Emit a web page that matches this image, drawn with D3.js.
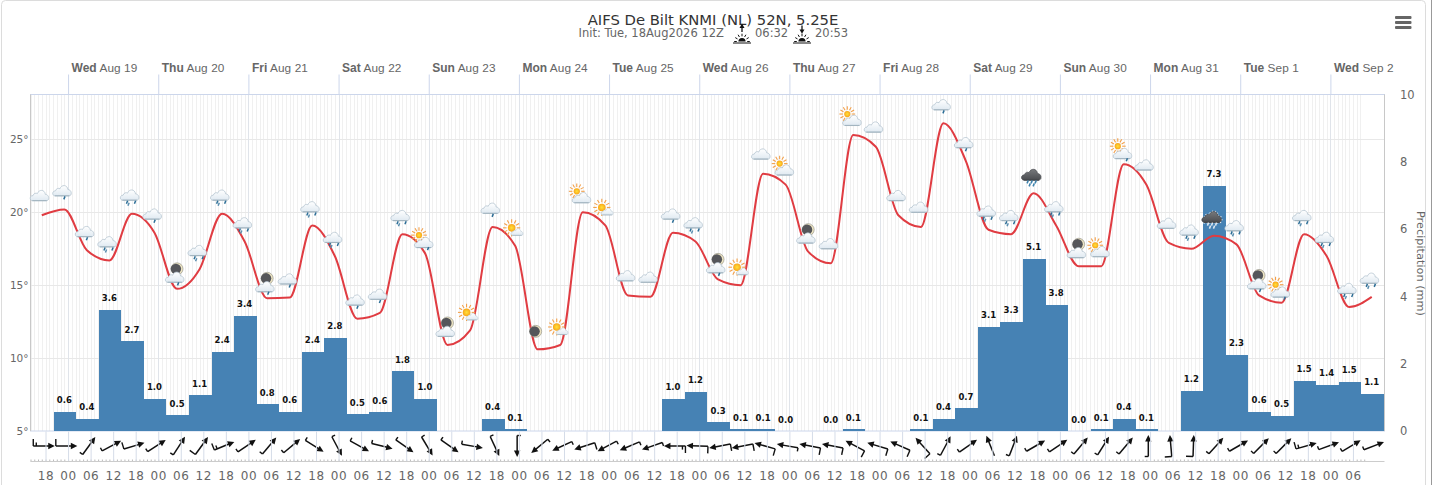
<!DOCTYPE html>
<html>
<head>
<meta charset="utf-8">
<title>AIFS De Bilt</title>
<script src="https://cdn.jsdelivr.net/npm/d3@7"></script>
<style>
    html, body { margin: 0; padding: 0; background: #fff; overflow: hidden; }
    svg { display: block; font-family: "DejaVu Sans", sans-serif; }
    .axis path { display: none; }
    .axis text { fill: #666; }
</style>
</head>
<body>
<svg id="chart" width="1432" height="485"></svg>
<script>
// 2 m temperature, every 6 h from 18 Aug 17Z
const temps = [19.8, 20.2, 17.4, 16.7, 19.9, 18.6, 14.75, 16.1, 19.9, 18.0,
    14.1, 14.15, 19.1, 17.0, 12.7, 13.1, 18.5, 17.2, 10.9, 11.9,
    19.0, 17.7, 10.6, 10.9, 20.0, 19.1, 14.3, 14.2, 18.6, 18.0,
    15.4, 15.0, 22.65, 21.9, 17.3, 16.5, 25.3, 24.5, 19.8, 19.0,
    26.1, 23.5, 18.8, 18.5, 21.3, 19.1, 16.3, 16.3, 23.3, 21.9,
    17.9, 17.5, 18.4, 17.8, 14.3, 13.8, 18.5, 17.0, 13.5, 14.2];
// precipitation per 6 h, null = no column and no label
const precip = [0.57, 0.36, 3.6, 2.66, 0.96, 0.47, 1.06, 2.35, 3.42, 0.8,
    0.57, 2.35, 2.77, 0.5, 0.55, 1.78, 0.96, null, null, 0.36,
    0.05, null, null, null, null, null, null, 0.96, 1.16, 0.26,
    0.05, 0.05, 0, null, 0, 0.05, null, null, 0.05, 0.36,
    0.68, 3.1, 3.25, 5.12, 3.75, 0, 0.05, 0.36, 0.05, null,
    1.19, 7.29, 2.26, 0.57, 0.46, 1.49, 1.37, 1.46, 1.1];
// weather symbol at each temperature point
const icons = ['c', 'r1', 'r1', 'r2', 'r2', 'r1', 'mr', 'r2', 'r2', 'r2',
    'mr', 'r1', 'r2', 'r2', 'r1', 'r1', 'r2', 'scr', 'm', 's',
    'r1', 's', 'mo', 's', 'sc', 's', 'c', 'c', 'r1', 'r2',
    'mr', 's', 'c', 'sc', 'm', 'c', 'sc', 'c', 'c', 'c',
    'r1', 'r1', 'r2', 'r2', 'd', 'r2', 'm', 'sc', 'scr', 'c',
    'c', 'r2', 'dw', 'r2', 'mr', 'scr', 'r2', 'r2', 'r2', 'r2'];
// direction the arrow points to, degrees clockwise from north
const windDir = [90, 90, 36, 62, 73, 57, 33, 36, 68, 56,
    40, 50, 122, 152, 119, 104, 125, 149, 125, 100,
    155, 180, 230, 245, 252, 242, 247, 251, 270, 272,
    259, 259, 286, 280, 281, 281, 298, 287, 294, 318,
    28, 55, 338, 21, 60, 56, 40, 32, 40, 0,
    355, 2, 42, 60, 45, 45, 74, 70, 59, 69];
// wind speed in knots, 10 = long barb, 5 = short barb
const windSpeed = [15, 10, 5, 5, 10, 5, 5, 10, 15, 5,
    5, 5, 5, 5, 5, 5, 5, 5, 5, 5,
    5, 5, 5, 5, 10, 5, 5, 5, 15, 10,
    10, 10, 10, 5, 10, 10, 10, 10, 10, 10,
    5, 5, 0, 5, 5, 5, 5, 5, 5, 5,
    10, 10, 5, 5, 5, 5, 15, 5, 5, 5];
const precipTicks = [0, 2, 4, 6, 8, 10];
const tempTicks = [5, 10, 15, 20, 25];

const titleText = 'AIFS De Bilt KNMI (NL) 52N, 5.25E';
const initText = 'Init: Tue, 18Aug2026 12Z';
const sunriseText = '06:32';
const sunsetText = '20:53';

const hour = 3600000;
const firstPoint = Date.UTC(2026, 7, 18, 17);
const plot = { left: 30.5, right: 1384.5, top: 94.5, bottom: 431 };

const svg = d3.select('#chart');
const x = d3.scaleUtc()
    .domain([Date.UTC(2026, 7, 18, 14), Date.UTC(2026, 8, 2, 14, 24)])
    .range([plot.left, plot.right]);
const yTemp = d3.scaleLinear().domain([5, 28.08]).range([plot.bottom, plot.top]);
const yRain = d3.scaleLinear().domain([0, 10]).range([plot.bottom, plot.top]);
const pointX = (i) => x(firstPoint + i * 6 * hour);
const barWidth = pointX(1) - pointX(0);

// gradients for the symbols
const defs = svg.append('defs');
const addGradient = (id, top, bottom) => {
    const g = defs.append('linearGradient').attr('id', id)
        .attr('x1', 0).attr('x2', 0).attr('y1', 0).attr('y2', 1);
    g.append('stop').attr('offset', '0%').attr('stop-color', top);
    g.append('stop').attr('offset', '100%').attr('stop-color', bottom);
};
addGradient('cloudFill', '#ffffff', '#dfe9f1');
addGradient('darkFill', '#77797c', '#4a4c50');
const sunGrad = defs.append('radialGradient').attr('id', 'sunFill');
sunGrad.append('stop').attr('offset', '0%').attr('stop-color', '#ffe23a');
sunGrad.append('stop').attr('offset', '100%').attr('stop-color', '#f9a51a');

// card border
svg.append('rect').attr('x', 1.5).attr('y', 0.5).attr('width', 1424).attr('height', 500)
    .attr('rx', 4).attr('fill', '#fff').attr('stroke', '#dcdcdc');
svg.append('line').attr('x1', 1431.5).attr('x2', 1431.5).attr('y1', 0).attr('y2', 485)
    .attr('stroke', '#999');

// hourly and daily grid
const hourGrid = d3.utcHour.range(new Date(Date.UTC(2026, 7, 18, 14)), new Date(Date.UTC(2026, 8, 2, 9)));
const dayTicks = d3.utcDay.range(new Date(Date.UTC(2026, 7, 19)), new Date(Date.UTC(2026, 8, 3)));
const grid = svg.append('g');
grid.selectAll('line.minor').data(hourGrid).join('line')
    .attr('class', 'minor')
    .attr('x1', (d) => Math.round(x(d)) + 0.5).attr('x2', (d) => Math.round(x(d)) + 0.5)
    .attr('y1', plot.top).attr('y2', plot.bottom)
    .attr('stroke', '#f0f0f0');
grid.selectAll('line.temp').data(tempTicks.slice(1)).join('line')
    .attr('class', 'temp')
    .attr('x1', plot.left).attr('x2', plot.right)
    .attr('y1', (d) => Math.round(yTemp(d)) + 0.5).attr('y2', (d) => Math.round(yTemp(d)) + 0.5)
    .attr('stroke', '#e8e8e8');
grid.selectAll('line.day').data(dayTicks).join('line')
    .attr('class', 'day')
    .attr('x1', (d) => Math.round(x(d)) + 0.5).attr('x2', (d) => Math.round(x(d)) + 0.5)
    .attr('y1', plot.top).attr('y2', plot.bottom)
    .attr('stroke', '#e0e4ea');
svg.append('rect')
    .attr('x', plot.left).attr('y', plot.top)
    .attr('width', plot.right - plot.left).attr('height', plot.bottom - plot.top)
    .attr('fill', 'none').attr('stroke', '#ccd6eb');
svg.append('line').attr('x1', plot.right).attr('x2', plot.right)
    .attr('y1', plot.top).attr('y2', plot.bottom).attr('stroke', '#c8c8c8');
svg.append('line').attr('x1', plot.left).attr('x2', plot.left)
    .attr('y1', plot.top).attr('y2', plot.bottom).attr('stroke', '#c8c8c8');

// day axis on top
const dayAxis = svg.append('g').attr('class', 'axis')
    .attr('transform', 'translate(0,' + plot.top + ')')
    .call(d3.axisTop(x).tickValues(dayTicks).tickSize(20).tickFormat(''));
dayAxis.selectAll('line').attr('stroke', '#ccd6eb');
dayAxis.selectAll('text').remove();
dayAxis.selectAll('.tick').append('text')
    .attr('x', 3).attr('y', -23)
    .attr('font-size', 12)
    .attr('text-anchor', 'start')
    .each(function (d) {
        const t = d3.select(this);
        t.append('tspan').attr('font-weight', 'bold').text(d3.utcFormat('%a')(d));
        t.append('tspan').attr('font-size', 11.8).attr('letter-spacing', 0.1).text(' ' + d3.utcFormat('%b %-d')(d));
    });

// temperature axis on the left, precipitation on the right
const leftAxis = svg.append('g').attr('class', 'axis')
    .attr('transform', 'translate(' + plot.left + ',0)')
    .call(d3.axisLeft(yTemp).tickValues(tempTicks).tickSize(0).tickPadding(2).tickFormat((d) => d + '°'));
leftAxis.selectAll('text').attr('font-size', 10.5).attr('font-family', '"DejaVu Sans"');
const rightAxis = svg.append('g').attr('class', 'axis')
    .attr('transform', 'translate(' + plot.right + ',0)')
    .call(d3.axisRight(yRain).tickValues(precipTicks).tickSize(0).tickPadding(15.5));
rightAxis.selectAll('text').attr('font-size', 11.5).attr('font-family', '"DejaVu Sans"');
svg.append('text')
    .attr('transform', 'translate(1416.5,263.5) rotate(90)')
    .attr('text-anchor', 'middle')
    .attr('font-size', 11.3)
    .attr('fill', '#666')
    .text('Precipitation (mm)');

// precipitation columns
const bars = svg.append('g');
const barData = precip.map((v, i) => ({ v: v, i: i })).filter((d) => d.v !== null);
bars.selectAll('rect').data(barData).join('rect')
    .attr('x', (d) => pointX(d.i + 1) - barWidth / 2 + 0.7)
    .attr('width', barWidth)
    .attr('y', (d) => yRain(d.v))
    .attr('height', (d) => yRain(0) - yRain(d.v))
    .attr('fill', '#4682b4')
    .attr('shape-rendering', 'crispEdges');
bars.selectAll('text').data(barData).join('text')
    .attr('x', (d) => pointX(d.i + 1))
    .attr('y', (d) => yRain(d.v) - 8.5)
    .attr('text-anchor', 'middle')
    .attr('font-size', 8.5)
    .attr('font-weight', 'bold')
    .attr('fill', '#111')
    .text((d) => d3.format('.1f')(d.v));

// temperature line
const line = d3.line()
    .x((d, i) => pointX(i))
    .y((d) => yTemp(d))
    .curve(d3.curveMonotoneX);
svg.append('path').datum(temps)
    .attr('d', line)
    .attr('fill', 'none')
    .attr('stroke', '#e03c42')
    .attr('stroke-width', 2);

// weather symbols, all drawn around the point they belong to
const cloudPath = 'M-7,5.5 C-10.5,5.5 -10.5,0.5 -6.8,0.4 C-6.2,-2 -3.6,-2.6 -2.4,-1.6 C-1,-6 5,-6 5.6,-0.8 C9.6,-0.8 10.2,5.5 6.6,5.5 Z';
const drawCloud = (g, dx, dy, scale, dark) => {
    const c = g.append('g').attr('transform', 'translate(' + dx + ',' + dy + ') scale(' + scale + ')');
    if (dark) {
        c.append('path').attr('d', cloudPath).attr('fill', 'none')
            .attr('stroke', '#fff').attr('stroke-width', 2).attr('stroke-dasharray', '1 1.5');
    }
    c.append('path').attr('d', cloudPath)
        .attr('fill', dark ? 'url(#darkFill)' : 'url(#cloudFill)')
        .attr('stroke', dark ? '#4a4c50' : '#aebfcb')
        .attr('stroke-width', 0.7);
    c.append('path').attr('d', 'M-7.5,5.4 L7,5.4').attr('stroke', dark ? '#44464a' : '#a3b5c0').attr('stroke-width', 1.1);
};
const drawDrop = (g, dx, dy, color) => {
    g.append('line')
        .attr('x1', dx + 0.7).attr('x2', dx - 0.5)
        .attr('y1', dy - 1.5).attr('y2', dy + 1.5)
        .attr('stroke', color || '#2b6d96')
        .attr('stroke-width', 1.5);
};
const drawSun = (g, dx, dy, r) => {
    const s = g.append('g').attr('transform', 'translate(' + dx + ',' + dy + ')');
    s.selectAll('line').data(d3.range(12)).join('line')
        .attr('x1', (d) => Math.cos(d * Math.PI / 6) * (r + 1.3))
        .attr('y1', (d) => Math.sin(d * Math.PI / 6) * (r + 1.3))
        .attr('x2', (d) => Math.cos(d * Math.PI / 6) * (r + 4.8))
        .attr('y2', (d) => Math.sin(d * Math.PI / 6) * (r + 4.8))
        .attr('stroke', '#f3a04a').attr('stroke-width', 1.1);
    s.append('circle').attr('r', r).attr('fill', 'url(#sunFill)');
};
const drawMoon = (g, dx, dy) => {
    g.append('circle').attr('cx', dx).attr('cy', dy).attr('r', 6)
        .attr('fill', '#efe6c4').attr('stroke', '#8a8a80').attr('stroke-width', 0.6);
    g.append('circle').attr('cx', dx - 1.1).attr('cy', dy).attr('r', 5.2).attr('fill', '#55565a');
};
const drawIcon = function (type) {
    const g = d3.select(this);
    if (type === 'c') {
        drawCloud(g, -2, -20, 1);
    } else if (type === 'r1') {
        drawCloud(g, -2, -19, 1);
        drawDrop(g, 0, -11.5);
    } else if (type === 'r2') {
        drawCloud(g, -2, -19, 1);
        drawDrop(g, -5, -11.5);
        drawDrop(g, 3, -11.5);
        drawDrop(g, -3.5, -9.5, '#5b8fb0');
    } else if (type === 's') {
        drawSun(g, -3.5, -18, 3.8);
        drawCloud(g, 2, -14, 0.65);
    } else if (type === 'sc') {
        drawSun(g, -6, -21, 3.1);
        drawCloud(g, -1, -15, 1);
    } else if (type === 'scr') {
        drawSun(g, -6, -18, 3.1);
        drawCloud(g, -1, -11, 1);
        drawDrop(g, 3, -4.5);
    } else if (type === 'm') {
        drawMoon(g, 0, -22);
        drawCloud(g, -2, -14, 1);
    } else if (type === 'mr') {
        drawMoon(g, 0, -20);
        drawCloud(g, -2, -12, 1);
        drawDrop(g, 1, -5);
    } else if (type === 'mo') {
        drawMoon(g, -2, -18);
    } else if (type === 'd' || type === 'dw') {
        const dropColor = type === 'dw' ? '#dfe9f1' : '#3d82ad';
        drawCloud(g, -2, -19, 1.05, true);
        [-6, -2, 2].forEach((dx) => drawDrop(g, dx, -11.5, dropColor));
        [-4, 0].forEach((dx) => drawDrop(g, dx, -8.5, dropColor));
    }
};
svg.append('g').selectAll('g').data(icons).join('g')
    .attr('transform', (d, i) => 'translate(' + pointX(i) + ',' + yTemp(temps[i]) + ')')
    .each(drawIcon);

// wind arrows with barbs at the tail
const drawWind = function (d, i) {
    const g = d3.select(this);
    const half = 10.5;
    g.append('line').attr('x1', 0).attr('x2', 0).attr('y1', half).attr('y2', -half + 4)
        .attr('stroke', '#111').attr('stroke-width', 1.5);
    g.append('path').attr('d', 'M0,' + (-half - 0.5) + ' L3.2,' + (-half + 6) + ' L-3.2,' + (-half + 6) + ' Z')
        .attr('fill', '#111');
    let left = windSpeed[i];
    let pos = half;
    while (left >= 5) {
        const len = left >= 10 ? 7 : 3.6;
        g.append('line').attr('x1', 0).attr('x2', -len).attr('y1', pos).attr('y2', pos)
            .attr('stroke', '#111').attr('stroke-width', 1.4);
        left -= left >= 10 ? 10 : 5;
        pos -= 3;
    }
};
svg.append('g').selectAll('g').data(windDir).join('g')
    .attr('transform', (d, i) => 'translate(' + (pointX(i) + 2) + ',446) rotate(' + d + ')')
    .each(drawWind);

// hour axis below the wind arrows
const hourTicks = d3.utcHour.every(6).range(new Date(Date.UTC(2026, 7, 18, 18)), new Date(Date.UTC(2026, 8, 2, 7)));
const minorAxis = svg.append('g').attr('class', 'axis')
    .attr('transform', 'translate(0,461.5)')
    .call(d3.axisBottom(x).tickValues(d3.utcHour.range(new Date(Date.UTC(2026, 7, 18, 14)), new Date(Date.UTC(2026, 8, 2, 10)))).tickSize(-2).tickFormat(''));
minorAxis.selectAll('line').attr('stroke', '#bbb');
minorAxis.selectAll('text').remove();
const hourAxis = svg.append('g').attr('class', 'axis')
    .attr('transform', 'translate(0,461.5)')
    .call(d3.axisBottom(x).tickValues(hourTicks).tickSizeInner(-30).tickSizeOuter(0).tickPadding(10).tickFormat(d3.utcFormat('%H')));
hourAxis.selectAll('line').attr('stroke', '#d5dce8');
hourAxis.selectAll('text').attr('font-size', 12).attr('font-family', '"DejaVu Sans"').attr('letter-spacing', 0.6);
svg.append('line').attr('x1', plot.left).attr('x2', plot.right)
    .attr('y1', 461.5).attr('y2', 461.5).attr('stroke', '#ccc');

// title
svg.append('text').attr('x', 713).attr('y', 24.5).attr('text-anchor', 'middle')
    .attr('font-size', 14.8).attr('fill', '#333').text(titleText);
const sub = svg.append('g').attr('font-size', 11.5).attr('fill', '#666');
sub.append('text').attr('x', 578.5).attr('y', 37).text(initText);
sub.append('text').attr('x', 755).attr('y', 37).text(sunriseText);
sub.append('text').attr('x', 815).attr('y', 37).text(sunsetText);
const drawSunMark = (cx, up) => {
    const m = svg.append('g').attr('transform', 'translate(' + cx + ',42.5)').attr('stroke', '#111').attr('fill', '#111');
    m.append('line').attr('x1', -9).attr('x2', 9).attr('y1', 0.5).attr('y2', 0.5).attr('stroke-width', 1);
    m.append('path').attr('d', 'M-3.6,-1 A3.6,3.6 0 0 1 3.6,-1 Z').attr('stroke', 'none');
    d3.range(7).forEach((k) => {
        const a = Math.PI * k / 6;
        m.append('line')
            .attr('x1', -Math.cos(a) * 5.2).attr('y1', -1 - Math.sin(a) * 5.2)
            .attr('x2', -Math.cos(a) * 7.8).attr('y2', -1 - Math.sin(a) * 7.8)
            .attr('stroke-width', 1);
    });
    m.append('line').attr('x1', 0).attr('x2', 0).attr('y1', -17).attr('y2', -10.5).attr('stroke-width', 1.3);
    const tip = up ? 'M-2.5,-14.5 L2.5,-14.5 L0,-19 Z' : 'M-2.5,-13 L2.5,-13 L0,-8.8 Z';
    m.append('path').attr('d', tip).attr('stroke', 'none');
};
drawSunMark(742, true);
drawSunMark(802, false);

// context menu symbol
svg.append('g').selectAll('rect').data(d3.range(3)).join('rect')
    .attr('x', 1395).attr('y', (d) => 16 + d * 5)
    .attr('width', 16.5).attr('height', 3).attr('rx', 1)
    .attr('fill', '#666');
</script>
</body>
</html>
